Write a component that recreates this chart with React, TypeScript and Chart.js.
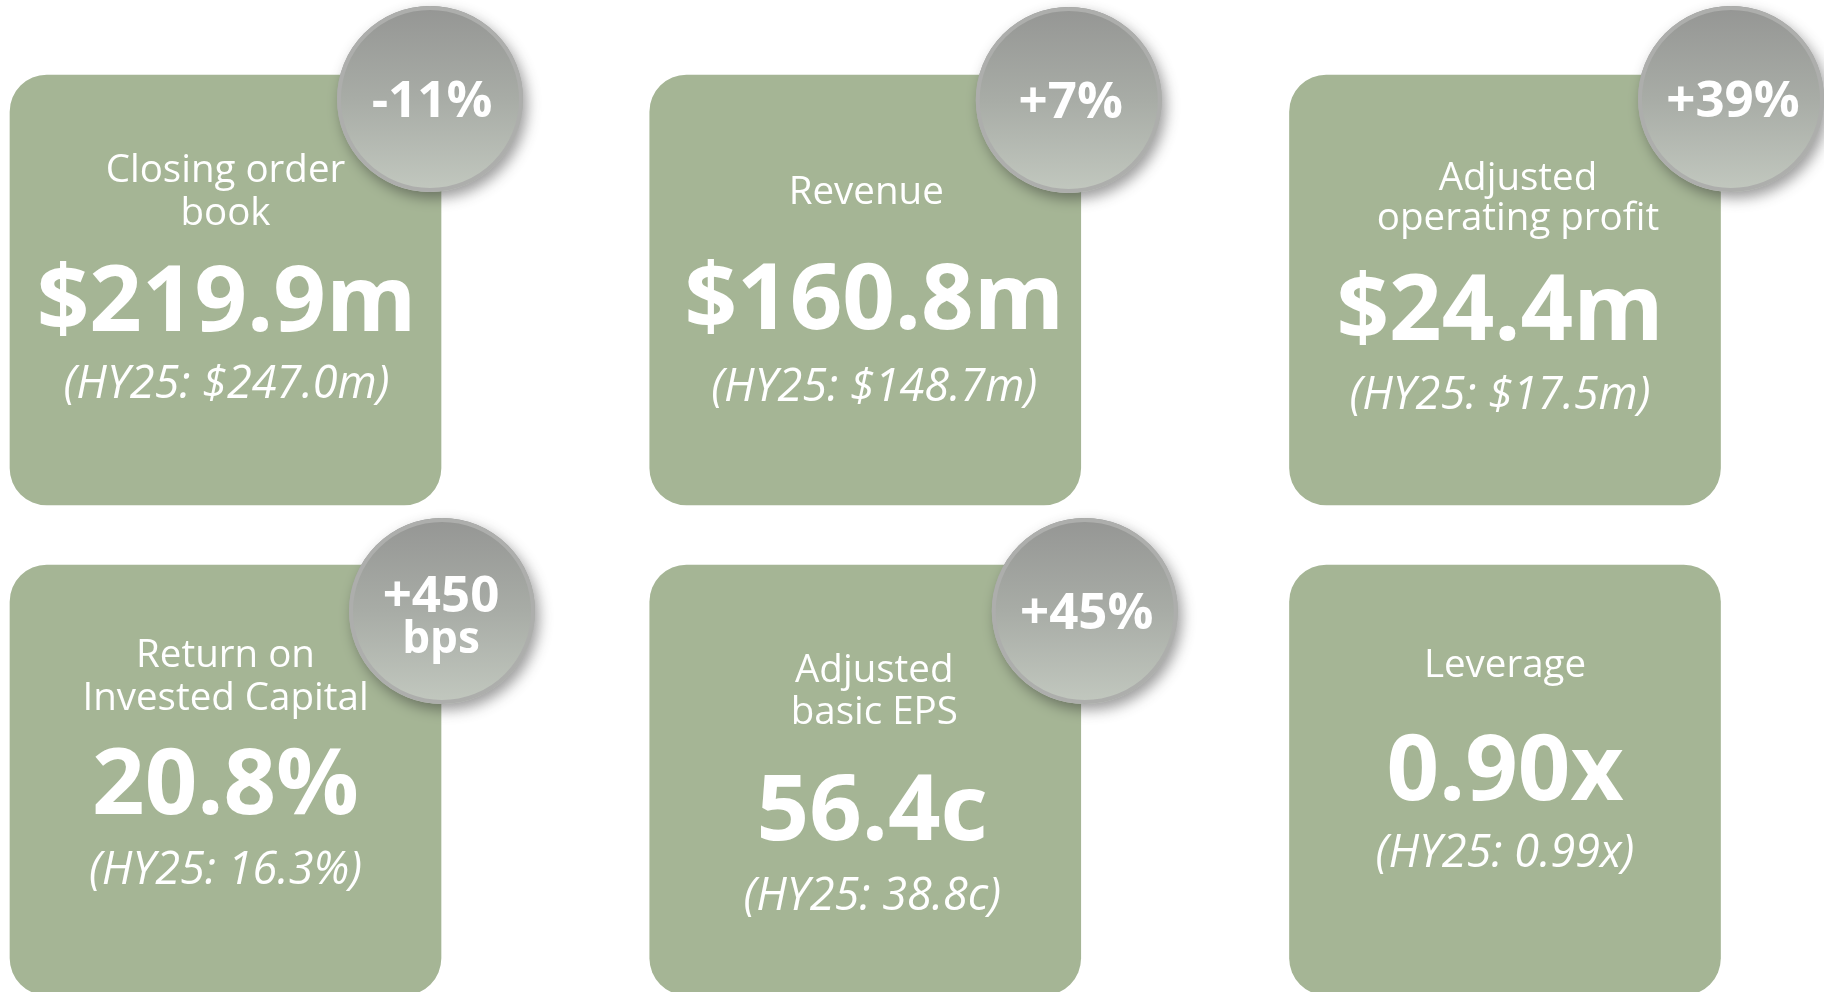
import React, { useEffect, useRef } from "react";
import { Chart, registerables } from "chart.js";

Chart.register(...registerables);

// ---------- data ----------
const columns = ["Left", "Centre", "Right"];
const metricTitles = [
  "Closing order\nbook",
  "Revenue",
  "Adjusted\noperating profit",
  "Return on\nInvested Capital",
  "Adjusted\nbasic EPS",
  "Leverage",
];
const currentValues = [219.9, 160.8, 24.4, 20.8, 56.4, 0.9];
const priorValues = [247.0, 148.7, 17.5, 16.3, 38.8, 0.99];
const valueFormats = ["money", "money", "money", "pct", "cents", "times"];
const changeLabels = ["-11%", "+7%", "+39%", "+450\nbps", "+45%", ""];
const priorPeriod = "HY25";
const tileRow = [0, 0, 0, 1, 1, 1];
const tileCol = [0, 1, 2, 0, 1, 2];

// ---------- layout / style (not data) ----------
const TILE_HALF = 0.43878; // half tile height in row units
const TILE_COLOR = "#a5b595";
const textLayout = [
  { titleY: -108, lineH: 43, valueY: 41, subY: 108, titleDx: 0, bodyDx: 1 },
  { titleY: -86, lineH: 43, valueY: 39, subY: 111, titleDx: 1, bodyDx: 9 },
  { titleY: -100, lineH: 40, valueY: 50, subY: 119, titleDx: 13, bodyDx: -5 },
  { titleY: -113, lineH: 43, valueY: 34, subY: 104, titleDx: 0, bodyDx: 0 },
  { titleY: -98, lineH: 42, valueY: 60, subY: 130, titleDx: 9, bodyDx: 7 },
  { titleY: -103, lineH: 42, valueY: 20, subY: 87, titleDx: 0, bodyDx: 0 },
];
const badgeLayout = [
  { dx: -11, dy: 24 },
  { dx: -12, dy: 25 },
  { dx: 10.5, dy: 24 },
  { dx: 1, dy: 46 },
  { dx: 4, dy: 46 },
  null,
];
const BADGE_R = 93;

function formatValue(v: number, f: string): string {
  if (f === "money") return `$${v.toFixed(1)}m`;
  if (f === "pct") return `${v.toFixed(1)}%`;
  if (f === "cents") return `${v.toFixed(1)}c`;
  return `${v.toFixed(2)}x`;
}

function tileIndex(row: number, col: number): number {
  for (let i = 0; i < tileRow.length; i++) {
    if (tileRow[i] === row && tileCol[i] === col) return i;
  }
  return -1;
}

const FONT = '"Open Sans", "Noto Sans", sans-serif';

const tilePlugin = {
  id: "kpiTiles",
  afterDatasetsDraw(chart: any) {
    const ctx: CanvasRenderingContext2D = chart.ctx;
    const badges: any[] = [];
    chart.data.datasets.forEach((_ds: any, di: number) => {
      const meta = chart.getDatasetMeta(di);
      meta.data.forEach((el: any, ci: number) => {
        const idx = tileIndex(di, ci);
        if (idx < 0) return;
        const p = el.getProps(["x", "y", "base", "width"], true);
        const top = Math.min(p.y, p.base);
        const cy = (p.y + p.base) / 2;
        const cx = p.x;
        const L = textLayout[idx];
        ctx.save();
        ctx.fillStyle = "#ffffff";
        ctx.textAlign = "center";
        ctx.textBaseline = "alphabetic";
        ctx.font = `400 38.5px ${FONT}`;
        metricTitles[idx].split("\n").forEach((line, li) => {
          ctx.fillText(line, cx + L.titleDx, cy + L.titleY + li * L.lineH);
        });
        ctx.font = `700 92px ${FONT}`;
        ctx.fillText(formatValue(currentValues[idx], valueFormats[idx]), cx + L.bodyDx, cy + L.valueY);
        ctx.font = `italic 500 45px ${FONT}`;
        ctx.fillText(
          `(${priorPeriod}: ${formatValue(priorValues[idx], valueFormats[idx])})`,
          cx + L.bodyDx,
          cy + L.subY
        );
        ctx.restore();
        const B = badgeLayout[idx];
        if (B && changeLabels[idx]) {
          badges.push({ x: p.x + p.width / 2 + B.dx, y: top + B.dy, label: changeLabels[idx] });
        }
      });
    });

    badges.forEach((b) => {
      const R = BADGE_R;
      ctx.save();
      ctx.shadowColor = "rgba(35,35,35,0.45)";
      ctx.shadowBlur = 14;
      ctx.shadowOffsetX = 4;
      ctx.shadowOffsetY = 6;
      const g = ctx.createLinearGradient(b.x, b.y - R, b.x, b.y + R);
      g.addColorStop(0, "#959694");
      g.addColorStop(0.5, "#a8aca6");
      g.addColorStop(1, "#c2c8bf");
      ctx.beginPath();
      ctx.arc(b.x, b.y, R, 0, Math.PI * 2);
      ctx.fillStyle = g;
      ctx.fill();
      ctx.restore();

      ctx.save();
      ctx.beginPath();
      ctx.arc(b.x, b.y, R - 2, 0, Math.PI * 2);
      ctx.strokeStyle = "#adaeac";
      ctx.lineWidth = 4;
      ctx.stroke();

      ctx.fillStyle = "#ffffff";
      ctx.textAlign = "center";
      ctx.textBaseline = "alphabetic";
      ctx.font = `700 51px ${FONT}`;
      const lines = b.label.split("\n");
      if (lines.length === 1) {
        ctx.fillText(lines[0], b.x + 2, b.y + 18);
      } else {
        ctx.fillText(lines[0], b.x - 1, b.y + 1);
        ctx.font = `700 44px ${FONT}`;
        ctx.fillText(lines[1], b.x - 1, b.y + 42);
      }
      ctx.restore();
    });
  },
};

export default function App() {
  const canvasRef = useRef<HTMLCanvasElement | null>(null);

  useEffect(() => {
    if (!canvasRef.current) return;
    const datasets = [0, 1].map((row) => ({
      label: `Row ${row + 1}`,
      data: columns.map((_c, col) => (tileIndex(row, col) >= 0 ? [row - TILE_HALF, row + TILE_HALF] : null)),
      backgroundColor: TILE_COLOR,
      borderWidth: 0,
      borderSkipped: false,
      borderRadius: { topLeft: 37, topRight: 37, bottomLeft: 37, bottomRight: 37 },
      barThickness: 431,
      grouped: false,
      clip: false,
    }));
    const chart = new Chart(canvasRef.current, {
      type: "bar",
      data: { labels: columns, datasets: datasets as any },
      options: {
        responsive: false,
        animation: false,
        events: [],
        layout: { padding: { left: 225.5, right: 319, top: 0, bottom: 0 } },
        plugins: { legend: { display: false }, tooltip: { enabled: false } },
        scales: {
          x: { type: "category", offset: false, display: false, grid: { display: false } },
          y: { type: "linear", min: -0.59184, max: 1.43265, reverse: true, display: false },
        },
      } as any,
      plugins: [tilePlugin],
    });
    let alive = true;
    if ((document as any).fonts) {
      Promise.all([
        document.fonts.load(`400 38px "Open Sans"`),
        document.fonts.load(`700 92px "Open Sans"`),
        document.fonts.load(`italic 500 45px "Open Sans"`),
      ])
        .catch(() => null)
        .then(() => {
          if (alive) chart.update();
        });
    }
    return () => {
      alive = false;
      chart.destroy();
    };
  }, []);

  return (
    <div style={{ width: 1824, height: 992, background: "#ffffff" }}>
      <style>{`body{margin:0;background:#ffffff;}`}</style>
      <canvas ref={canvasRef} width={1824} height={992} style={{ display: "block", width: 1824, height: 992 }} />
    </div>
  );
}
